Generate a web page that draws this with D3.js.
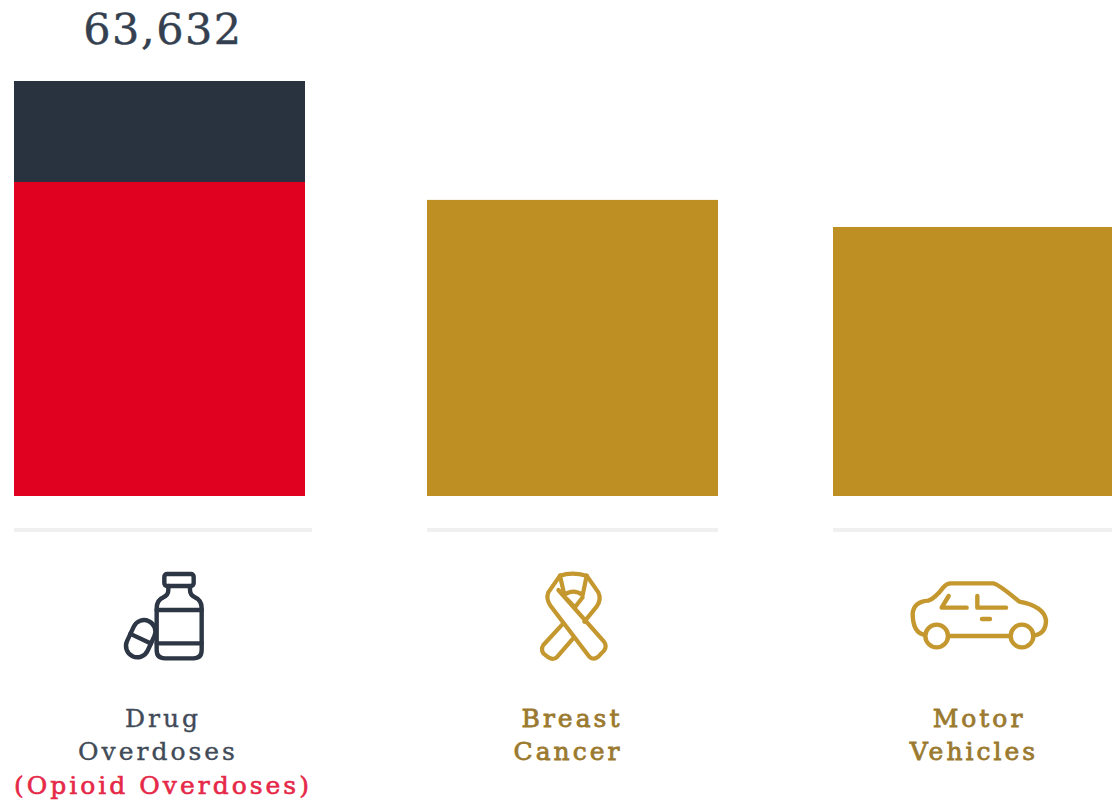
<!DOCTYPE html>
<html><head><meta charset="utf-8">
<script src="https://cdn.jsdelivr.net/npm/d3@7/dist/d3.min.js"></script>
<style>html,body{margin:0;padding:0;background:#fff;overflow:hidden}svg{display:block}</style>
</head><body><svg id="c" width="1112" height="803"></svg>
<script>
const categories = ["Drug Overdoses", "Breast Cancer", "Motor Vehicles"];
const totals = [63632, 45400, 41250];
const opioidValues = [48150, 0, 0];
const totalLabel = "63,632";
const labelLines = [["Drug","Overdoses"],["Breast","Cancer"],["Motor","Vehicles"]];
const subLabel = "(Opioid Overdoses)";

const svg = d3.select("#c");
const y = d3.scaleLinear().domain([0, 63632]).range([496, 81]);
const left = d3.scaleOrdinal().domain(categories).range([14, 427, 833]);
const barW = d3.scaleOrdinal().domain(categories).range([291, 291, 291]);
const ruleW = d3.scaleOrdinal().domain(categories).range([298, 291, 279]);
const textX = d3.scaleOrdinal().domain(categories).range([[163,158],[572,568],[979,974]]);
const DARK="#29323f", RED="#e00020", GOLD="#be8f22", ICON_GOLD="#c4982f";
const serif = "'DejaVu Serif','Liberation Serif',serif";

categories.forEach((c,i)=>{
  const top = y(totals[i]);
  svg.append("rect").attr("x",left(c)).attr("y",top).attr("width",barW(c)).attr("height",y(0)-top)
    .attr("fill", opioidValues[i]>0?DARK:GOLD);
  if(opioidValues[i]>0){
    const t2=y(opioidValues[i]);
    svg.append("rect").attr("x",left(c)).attr("y",t2).attr("width",barW(c)).attr("height",y(0)-t2).attr("fill",RED);
  }
  svg.append("rect").attr("x",left(c)).attr("y",528).attr("width",ruleW(c)).attr("height",4).attr("fill","#f0f0f0");
  labelLines[i].forEach((t,j)=>{
    const col=i?"#9b7a30":"#414b58";
    svg.append("text").attr("x",textX(c)[j]).attr("y",727+j*33).attr("text-anchor","middle")
      .attr("font-family",serif).attr("font-size",25).attr("letter-spacing",3)
      .attr("fill",col).attr("stroke",col).attr("stroke-width",i?0.8:0.4).text(t);
  });
});
svg.append("text").attr("x",163).attr("y",794).attr("text-anchor","middle").attr("font-family",serif)
  .attr("font-size",25).attr("letter-spacing",3).attr("fill","#e62848").attr("stroke","#e62848").attr("stroke-width",0.6).text(subLabel);
svg.append("text").attr("x",163).attr("y",44).attr("text-anchor","middle").attr("font-family",serif)
  .attr("font-size",43).attr("letter-spacing",1.5).attr("fill","#34404f").attr("stroke","#34404f").attr("stroke-width",0.4).text(totalLabel);

function icon(x,yy,color,w,draw){
  const g=svg.append("g").attr("transform",`translate(${x},${yy}) scale(${1/3})`)
    .attr("fill","none").attr("stroke",color).attr("stroke-width",w*3).attr("stroke-linejoin","round").attr("stroke-linecap","round");
  draw(g);
}
icon(100,560,"#2c3645",4.4,g=>{
  g.append("rect").attr("x",193).attr("y",42).attr("width",88).attr("height",36).attr("rx",8);
  g.append("path").attr("d","M205,78 V90 Q205,105 190,112 Q170,120 170,145 V270 Q170,295 195,295 H280 Q305,295 305,270 V145 Q305,120 285,112 Q270,105 270,90 V78");
  g.append("path").attr("d","M170,150 H305 M170,250 H305");
  g.append("rect").attr("x",-34).attr("y",-58).attr("width",68).attr("height",116).attr("rx",34).attr("transform","translate(122,236) rotate(25)");
  g.append("path").attr("d","M-34,0 H34").attr("transform","translate(122,236) rotate(25)");
});
icon(530,560,ICON_GOLD,4.2,g=>{
  g.append("path").attr("d","M90,47 Q125,35 170,47 L205,97 Q215,118 200,140 L163,185");
  g.append("path").attr("d","M90,47 L55,97 Q47,118 62,138 L178,290 Q190,302 205,290 L222,272 Q232,258 222,245 L85,90");
  g.append("path").attr("d","M90,47 L102,100 M170,47 L158,105 M102,105 Q130,85 158,105 M112,118 L135,142 L158,112");
  g.append("path").attr("d","M100,190 L40,255 Q32,268 40,280 L55,292 Q70,302 82,290 L132,232");
});
icon(900,570,ICON_GOLD,4.4,g=>{
  g.append("path").attr("d","M75,195 Q38,190 38,130 Q42,95 85,92 Q105,85 130,52 Q140,40 152,40 H280 Q295,42 358,95 Q430,108 438,150 Q438,192 402,196");
  g.append("circle").attr("cx",110).attr("cy",198).attr("r",34);
  g.append("circle").attr("cx",366).attr("cy",198).attr("r",34);
  g.append("path").attr("d","M145,198 H331");
  g.append("path").attr("d","M146,78 L125,113 H200 M232,78 V113 H318 M246,147 H270");
});
</script></body></html>
